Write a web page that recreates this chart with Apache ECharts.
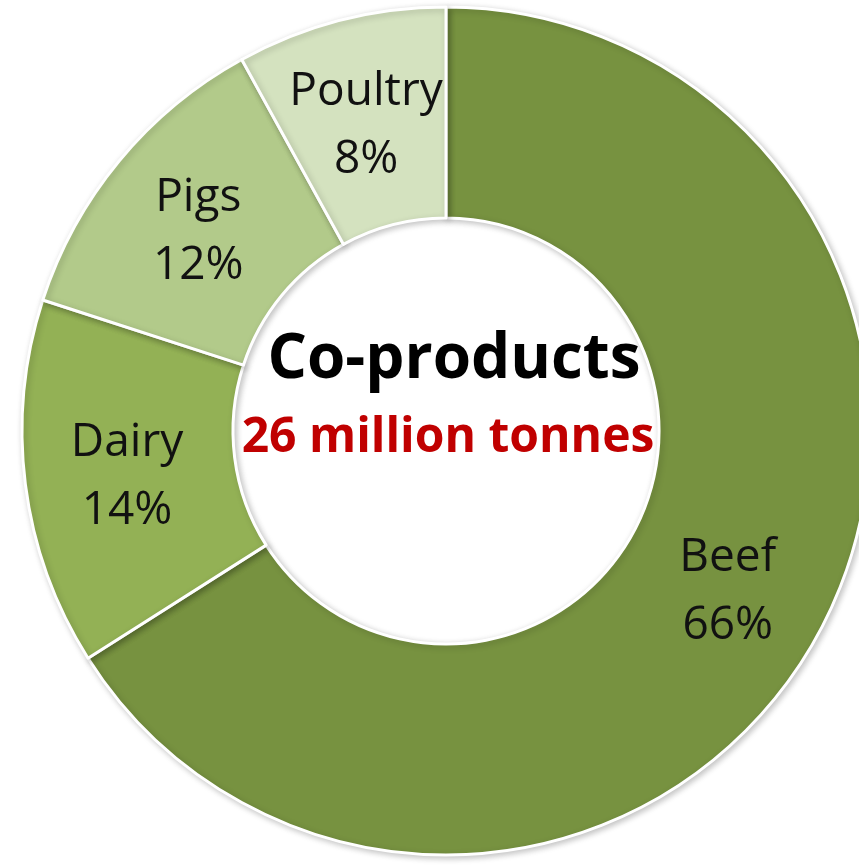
<!DOCTYPE html>
<html>
<head>
<meta charset="utf-8">
<script src="https://cdn.jsdelivr.net/npm/echarts@6/dist/echarts.min.js"></script>
<style>
  html, body { margin: 0; padding: 0; background: #ffffff; }
  #chart { width: 859px; height: 866px; }
</style>
</head>
<body>
<div id="chart"></div>
<script>
// Share of co-products by livestock source (percent)
const categories = ['Beef', 'Dairy', 'Pigs', 'Poultry'];
const shares = [66, 14, 12, 8];
const sliceColors = ['#779240', '#93b155', '#b2ca8a', '#d4e2bf'];
const centerTitle = 'Co-products';
const centerSubtitle = '26 million tonnes';

const chart = echarts.init(document.getElementById('chart'), null, { renderer: 'canvas' });

const cx = 446, cy = 431;

chart.setOption({
  animation: false,
  backgroundColor: '#ffffff',
  series: [{
    type: 'pie',
    center: [cx, cy],
    radius: [213, 424],
    startAngle: 90,
    clockwise: true,
    avoidLabelOverlap: false,
    itemStyle: {
      borderColor: '#ffffff',
      borderWidth: 3,
      shadowBlur: 6,
      shadowOffsetX: 2,
      shadowOffsetY: 2,
      shadowColor: 'rgba(0,0,0,0.22)'
    },
    label: {
      show: true,
      position: 'inside',
      formatter: '{b}\n{c}%',
      color: '#111111',
      fontFamily: 'Open Sans',
      fontSize: 46,
      lineHeight: 68,
      offset: [0, 6]
    },
    labelLine: { show: false },
    emphasis: { disabled: true },
    data: categories.map((name, i) => ({
      name: name,
      value: shares[i],
      itemStyle: { color: sliceColors[i] }
    }))
  }],
  graphic: [
    {
      type: 'text',
      x: cx + 8,
      y: 360,
      style: {
        text: centerTitle,
        fill: '#000000',
        font: 'bold 62px "Open Sans"',
        align: 'center',
        verticalAlign: 'middle'
      }
    },
    {
      type: 'text',
      x: cx + 2,
      y: 438,
      style: {
        text: centerSubtitle,
        fill: '#c00000',
        font: 'bold 48px "Open Sans"',
        align: 'center',
        verticalAlign: 'middle'
      }
    }
  ]
});
</script>
</body>
</html>
